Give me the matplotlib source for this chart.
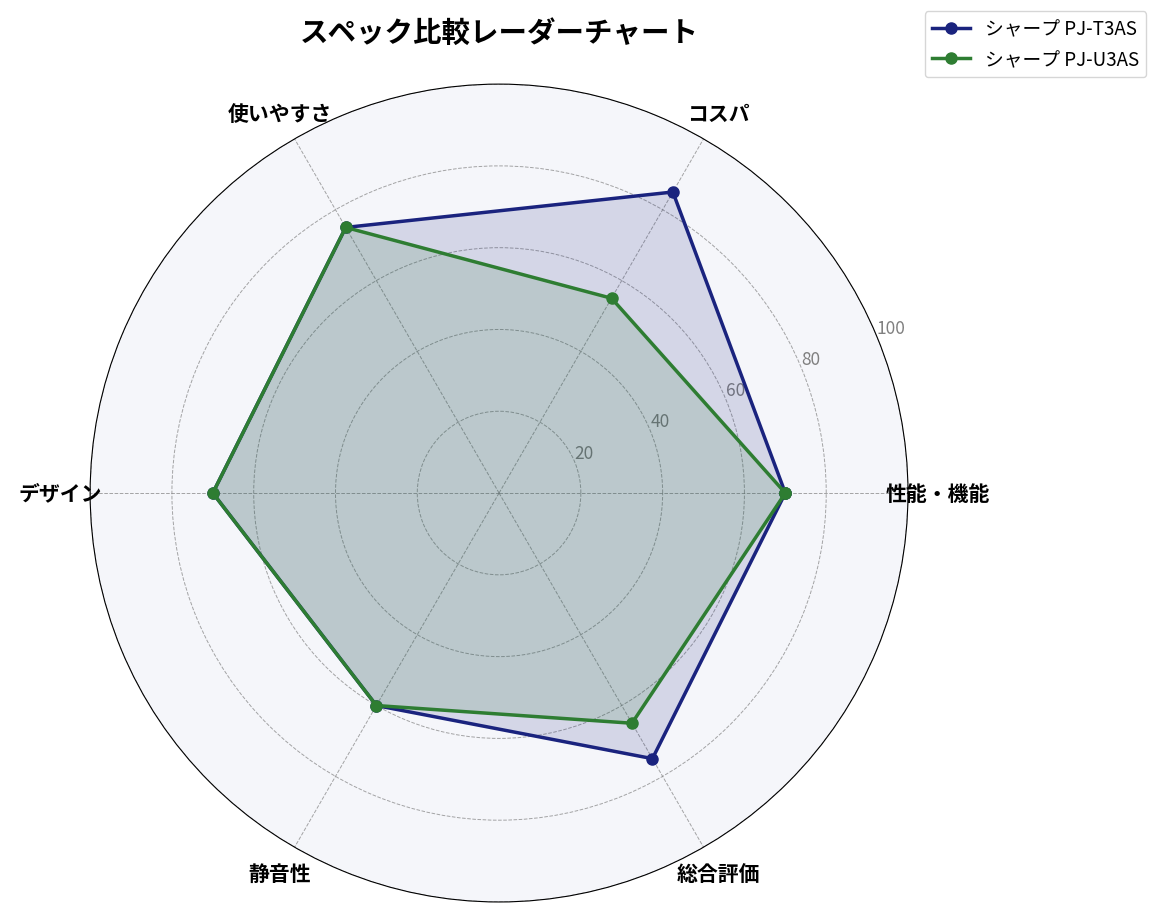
import numpy as np
import matplotlib
matplotlib.use("Agg")
import matplotlib.pyplot as plt

plt.rcParams["font.family"] = ["Noto Sans CJK JP", "DejaVu Sans"]

categories = ["性能・機能", "コスパ", "使いやすさ", "デザイン", "静音性", "総合評価"]
t3as_values = [70, 85, 75, 70, 60, 75]
u3as_values = [70, 55, 75, 70, 60, 65]
r_ticks = [20, 40, 60, 80, 100]

n = len(categories)
angles = np.linspace(0, 2 * np.pi, n, endpoint=False).tolist()
angles_closed = angles + angles[:1]

fig = plt.figure(figsize=(11.59, 9.2), dpi=100)
ax = fig.add_axes([0.0777, 0.0185, 0.7058, 0.889], polar=True)
ax.set_facecolor("#f5f6fa")

series = [
    ("シャープ PJ-T3AS", t3as_values, "#1a237e"),
    ("シャープ PJ-U3AS", u3as_values, "#2e7d32"),
]
for name, vals, color in series:
    v = vals + vals[:1]
    ax.plot(angles_closed, v, color=color, linewidth=2.5, marker="o",
            markersize=8, label=name, zorder=3)
    ax.fill(angles_closed, v, color=color, alpha=0.15, zorder=2)

ax.set_ylim(0, 100)
ax.set_yticks(r_ticks)
ax.set_yticklabels([str(t) for t in r_ticks], color="gray", fontsize=12.5)
ax.set_rlabel_position(22.5)
ax.set_xticks(angles)
ax.set_xticklabels(categories, fontsize=15, fontweight="bold")
ax.tick_params(axis="x", pad=11)
ax.grid(True, color="gray", linestyle="--", linewidth=0.7, alpha=0.7)

fig.text(0.431, 1 - 34 / 920, "スペック比較レーダーチャート", ha="center",
         va="center", fontsize=20.5, fontweight="bold")
fig.legend(loc="upper right", bbox_to_anchor=(0.989, 0.987),
           borderaxespad=0, fontsize=13.5)

fig.savefig("out.png", dpi=100)
